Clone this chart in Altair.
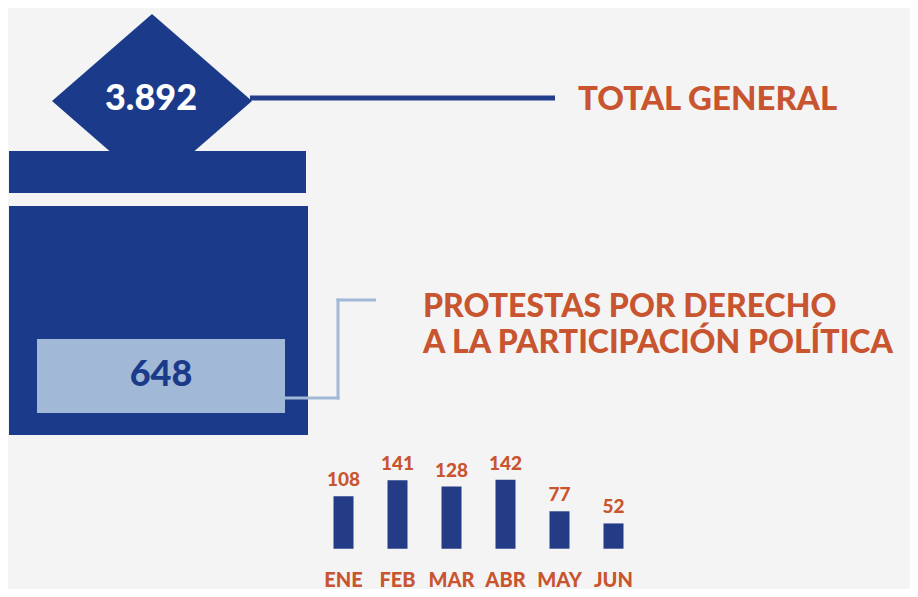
import altair as alt
import pandas as pd

# ---- data ----
months = ["ENE", "FEB", "MAR", "ABR", "MAY", "JUN"]
month_values = [108, 141, 128, 142, 77, 52]
total_value = "3.892"
total_label = "TOTAL GENERAL"
category_value = "648"
category_label_lines = ["PROTESTAS POR DERECHO", "A LA PARTICIPACIÓN POLÍTICA"]

DARK = "#1b3a8a"
BAR = "#243c86"
LIGHT = "#a1b9d7"
ORANGE = "#c8552f"
BG = "#f4f4f4"
FONT = "Lato"
WEIGHT = 900

W, H = 902, 581
one = pd.DataFrame({"k": [0]})
base = alt.Chart(one)

def rect(x, x2, y, y2, color):
    return base.mark_rect(color=color).encode(
        x=alt.value(x), x2=alt.value(x2), y=alt.value(y), y2=alt.value(y2))

def seg(x, x2, y, y2, color, w):
    return base.mark_rule(color=color, strokeWidth=w, strokeCap="butt").encode(
        x=alt.value(x), x2=alt.value(x2), y=alt.value(y), y2=alt.value(y2))

# diamond
diamond = base.mark_point(
    shape="M0,-0.87L1,0L0,0.87L-1,0Z", filled=True, size=40000,
    color=DARK, opacity=1, strokeWidth=0
).encode(x=alt.value(144), y=alt.value(93))

lid = rect(1, 298, 143, 185, DARK)
box = rect(1, 300, 198, 427, DARK)
inner = rect(29, 277, 331, 405, LIGHT)

total_line = seg(242, 547, 90, 90, "#233f8c", 5)
c1 = seg(277, 331.5, 390, 390, LIGHT, 3)
c2 = seg(330, 330, 290.5, 391.5, LIGHT, 3)
c3 = seg(328.5, 368, 292, 292, LIGHT, 3)

def txt(s, size, color, align, x, y):
    return alt.Chart(pd.DataFrame({"t": [s]})).mark_text(
        font=FONT, fontWeight=WEIGHT, fontSize=size, color=color,
        align=align, baseline="middle"
    ).encode(text="t:N", x=alt.value(x), y=alt.value(y))

total_text = txt(total_value, 36, "white", "center", 143, 91)
total_lbl = txt(total_label, 33, ORANGE, "left", 570, 92)
cat_text = txt(category_value, 36, DARK, "center", 153, 367)
cat_l1 = txt(category_label_lines[0], 32, ORANGE, "left", 415, 299)
cat_l2 = txt(category_label_lines[1], 32, ORANGE, "left", 415, 335)

# bars
bars_df = pd.DataFrame({"mes": months, "valor": month_values})
xs = alt.Scale(domain=months, range=[308.5, 632.5], paddingInner=0, paddingOuter=0)
ys = alt.Scale(domain=[0, 142], range=[540.7, 471.7], nice=False, zero=True)
bb = alt.Chart(bars_df)
xenc = alt.X("mes:N", scale=xs, axis=None, sort=months)
yenc = alt.Y("valor:Q", scale=ys, axis=None)
bars = bb.mark_bar(size=20, color=BAR).encode(x=xenc, y=yenc)
bar_labels = bb.mark_text(
    font=FONT, fontWeight=WEIGHT, fontSize=19, color=ORANGE,
    align="center", baseline="middle", dy=-16
).encode(x=xenc, y=yenc, text="valor:Q")
month_labels = bb.mark_text(
    font=FONT, fontWeight=WEIGHT, fontSize=20, color=ORANGE,
    align="center", baseline="middle"
).encode(x=xenc, y=alt.value(572.5), text="mes:N")

chart = alt.layer(
    diamond, lid, box, inner, total_line, c1, c2, c3,
    total_text, total_lbl, cat_text, cat_l1, cat_l2,
    bars, bar_labels, month_labels
).properties(
    width=W, height=H, padding=0, background=BG,
    autosize=alt.AutoSizeParams(type="none")
).configure_view(stroke=None)

chart.save("out.html", embed_options={"renderer": "svg", "actions": False})
